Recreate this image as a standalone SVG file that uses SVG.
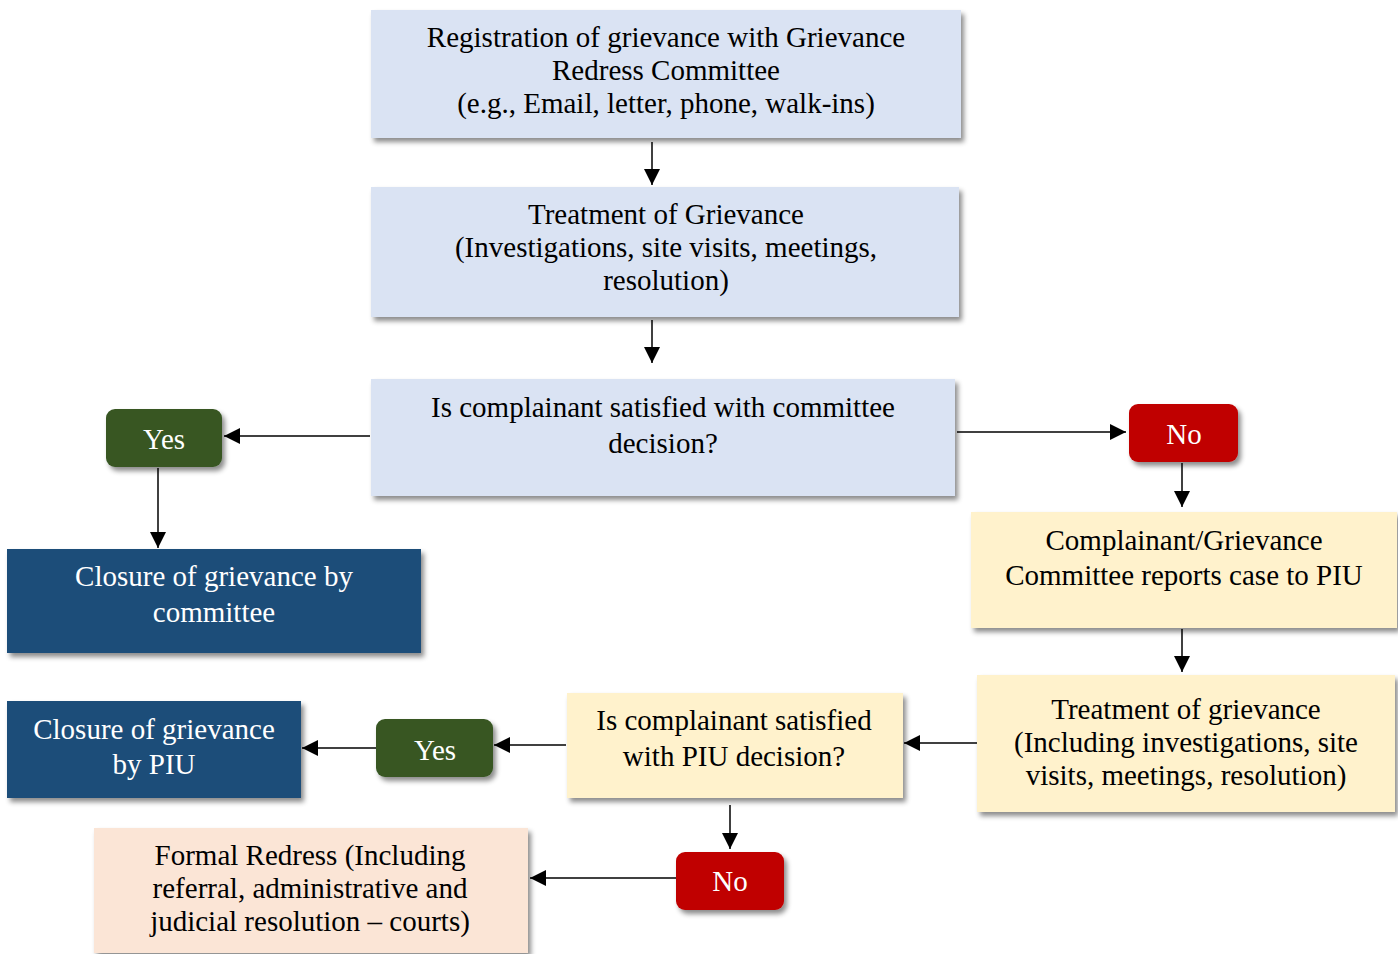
<svg xmlns="http://www.w3.org/2000/svg" width="1398" height="954" viewBox="0 0 1398 954">
<defs>
<filter id="sh" x="-10%" y="-10%" width="125%" height="135%">
<feDropShadow dx="3" dy="4" stdDeviation="2.5" flood-color="#000" flood-opacity="0.45"/>
</filter>
<marker id="ah" viewBox="0 0 10 10" refX="10" refY="5" markerWidth="16" markerHeight="16" markerUnits="userSpaceOnUse" orient="auto">
<path d="M0,0 L10,5 L0,10 z" fill="#000"/>
</marker>
</defs>
<style>
text{font-family:"Liberation Serif","DejaVu Serif",serif;font-size:29px;text-anchor:middle;fill:#000}
.w{fill:#fff}
.blue{fill:#dae3f3}
.yel{fill:#fff2cc}
.pink{fill:#fbe5d6}
.dk{fill:#1f4e79}
.gr{fill:#375623}
.rd{fill:#c00000}
.conn line{stroke:#000;stroke-width:1.5;marker-end:url(#ah)}
</style>
<rect width="1398" height="954" fill="#fff"/>
<g id="n1"><rect class="blue" x="371" y="10" width="590" height="128" filter="url(#sh)"/>
<text x="666" y="47">Registration of grievance with Grievance</text>
<text x="666" y="80">Redress Committee</text>
<text x="666" y="113">(e.g., Email, letter, phone, walk-ins)</text></g>
<g id="n2"><rect class="blue" x="371" y="187" width="588" height="130" filter="url(#sh)"/>
<text x="666" y="224">Treatment of Grievance</text>
<text x="666" y="257">(Investigations, site visits, meetings,</text>
<text x="666" y="290">resolution)</text></g>
<g id="n3"><rect class="blue" x="371" y="379" width="584" height="117" filter="url(#sh)"/>
<text x="663" y="417">Is complainant satisfied with committee</text>
<text x="663" y="453">decision?</text></g>
<g id="yes1"><rect class="gr" x="106" y="409" width="116" height="58" rx="9" filter="url(#sh)"/>
<text class="w" x="164" y="449">Yes</text></g>
<g id="no1"><rect class="rd" x="1129" y="404" width="109" height="58" rx="9" filter="url(#sh)"/>
<text class="w" x="1184" y="444">No</text></g>
<g id="close1"><rect class="dk" x="7" y="549" width="414" height="104" filter="url(#sh)"/>
<text class="w" x="214" y="586">Closure of grievance by</text>
<text class="w" x="214" y="622">committee</text></g>
<g id="piu1"><rect class="yel" x="971" y="512" width="426" height="116" filter="url(#sh)"/>
<text x="1184" y="550">Complainant/Grievance</text>
<text x="1184" y="585">Committee reports case to PIU</text></g>
<g id="piu2"><rect class="yel" x="977" y="675" width="418" height="137" filter="url(#sh)"/>
<text x="1186" y="719">Treatment of grievance</text>
<text x="1186" y="752">(Including investigations, site</text>
<text x="1186" y="785">visits, meetings, resolution)</text></g>
<g id="piu3"><rect class="yel" x="567" y="693" width="336" height="105" filter="url(#sh)"/>
<text x="734" y="730">Is complainant satisfied</text>
<text x="734" y="766">with PIU decision?</text></g>
<g id="yes2"><rect class="gr" x="376" y="719" width="117" height="58" rx="9" filter="url(#sh)"/>
<text class="w" x="435" y="760">Yes</text></g>
<g id="close2"><rect class="dk" x="7" y="701" width="294" height="97" filter="url(#sh)"/>
<text class="w" x="154" y="739">Closure of grievance</text>
<text class="w" x="154" y="774">by PIU</text></g>
<g id="no2"><rect class="rd" x="676" y="852" width="108" height="58" rx="9" filter="url(#sh)"/>
<text class="w" x="730" y="891">No</text></g>
<g id="formal"><rect class="pink" x="94" y="828" width="434" height="125" filter="url(#sh)"/>
<text x="310" y="865">Formal Redress (Including</text>
<text x="310" y="898">referral, administrative and</text>
<text x="310" y="931">judicial resolution – courts)</text></g>
<g class="conn" id="connectors">
<line x1="652" y1="142" x2="652" y2="185"/>
<line x1="652" y1="320" x2="652" y2="363"/>
<line x1="370" y1="436" x2="224" y2="436"/>
<line x1="957" y1="432" x2="1126" y2="432"/>
<line x1="158" y1="468" x2="158" y2="548"/>
<line x1="1182" y1="463" x2="1182" y2="507"/>
<line x1="1182" y1="629" x2="1182" y2="672"/>
<line x1="977" y1="743" x2="904" y2="743"/>
<line x1="566" y1="745" x2="494" y2="745"/>
<line x1="376" y1="748" x2="302" y2="748"/>
<line x1="730" y1="805" x2="730" y2="849"/>
<line x1="676" y1="878" x2="530" y2="878"/>
</g>
</svg>
